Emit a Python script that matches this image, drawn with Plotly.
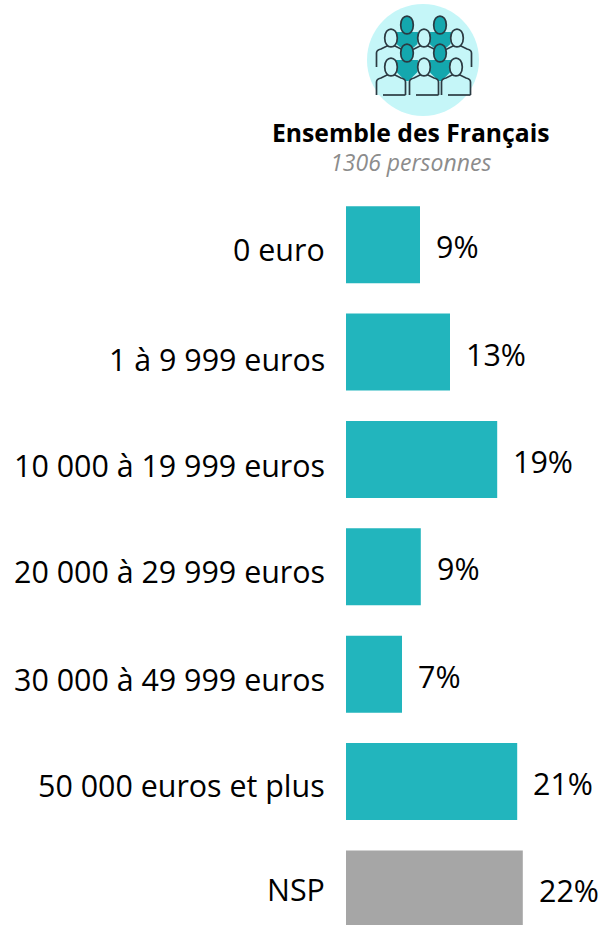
import plotly.graph_objects as go

categories = ["0 euro", "1 à 9 999 euros", "10 000 à 19 999 euros", "20 000 à 29 999 euros",
              "30 000 à 49 999 euros", "50 000 euros et plus", "NSP"]
values = [9.25, 13.0, 18.9, 9.35, 7.0, 21.4, 22.1]
labels = ["9%", "13%", "19%", "9%", "7%", "21%", "22%"]
colors = ["#22B5BD"] * 6 + ["#A6A6A6"]
title = "Ensemble des Français"
subtitle = "1306 personnes"

W, H = 604, 925
FONT = "Open Sans"
L, T = 346, 191
cat_shift = [-5, -7, -6, -5, -5, -4, -1]


def px(x):
    return (x - L) / (W - L)


def py(y):
    return 1 - (y - T) / (H - T)


def path(cmds):
    out = []
    for c in cmds:
        if isinstance(c, str):
            out.append(c)
        else:
            out.append(f"{px(c[0]):.5f},{py(c[1]):.5f}")
    return " ".join(out)


INK = "#2B3A42"
CYAN = "#C5F6F8"
TEAL = "#14A7AE"
shapes = []


def add(cmds, fill=None, width=1.7):
    shapes.append(dict(type="path", xref="paper", yref="paper", path=path(cmds),
                       fillcolor=fill or "rgba(0,0,0,0)",
                       line=dict(color=INK, width=width), layer="above"))


def head(cx, cy, fill):
    rx, ry = 6.3, 9.2
    add(["M", (cx - rx, cy), "C", (cx - rx, cy - ry * 1.3), (cx + rx, cy - ry * 1.3), (cx + rx, cy),
         "C", (cx + rx, cy + ry * 1.3), (cx - rx, cy + ry * 1.3), (cx - rx, cy), "Z"], fill)


def white_person(cx, cy, bottom, base=False):
    t = cy + 9
    add(["M", (cx - 14.5, bottom), "L", (cx - 14.5, t + 6), "Q", (cx - 14.5, t + 3), (cx - 10, t + 2),
         "L", (cx - 4, t - 1), "L", (cx + 4, t - 1), "L", (cx + 10, t + 2),
         "Q", (cx + 14.5, t + 3), (cx + 14.5, t + 6), "L", (cx + 14.5, bottom)], CYAN)
    if base:
        add(["M", (cx - 8, bottom), "L", (cx + 14.5, bottom)])
    head(cx, cy, CYAN)


def teal_person(cx, cy, bottom):
    t = cy + 7
    shapes.append(dict(type="path", xref="paper", yref="paper",
                       path=path(["M", (cx - 11, t), "L", (cx + 11, t), "L", (cx + 10.5, t + 12),
                                  "L", (cx + 1.5, bottom), "L", (cx - 1.5, bottom), "L", (cx - 10.5, t + 12), "Z"]),
                       fillcolor=TEAL, line=dict(color=TEAL, width=0), layer="above"))
    head(cx, cy, TEAL)


shapes.append(dict(type="circle", xref="paper", yref="paper", x0=px(367), x1=px(479),
                   y0=py(116), y1=py(4), fillcolor=CYAN, line=dict(width=0), layer="above"))
teal_person(407, 25, 52)
teal_person(440, 25, 52)
for cx in (391, 424, 457):
    white_person(cx, 38, 67)
teal_person(407, 53, 81)
teal_person(440, 53, 81)
for cx in (391, 424, 456):
    white_person(cx, 67, 95, base=True)

fig = go.Figure(go.Bar(x=values, y=categories, orientation="h", marker=dict(color=colors, line=dict(width=0)),
                       width=0.717, hoverinfo="skip"))

ann = []
for c, v, lab, s in zip(categories, values, labels, cat_shift):
    ann.append(dict(x=v, y=c, text=lab, xref="x", yref="y", xanchor="left", yanchor="middle", showarrow=False,
                    xshift=14, yshift=-2, font=dict(family=FONT, size=30.4, color="#000")))
    ann.append(dict(x=0, y=c, text=c, xref="x", yref="y", xanchor="right", yanchor="middle", showarrow=False,
                    xshift=-19, yshift=s, font=dict(family=FONT, size=30.4, color="#000")))
header = (f'<b><span style="font-size:24.7px;color:#000">{title}</span></b><br>'
          f'<i><span style="font-size:23px;color:#8C8C8C">{subtitle}</span></i>')
ann.append(dict(x=px(411), y=py(146.5), xref="paper", yref="paper", text=header, showarrow=False, align="center",
                xanchor="center", yanchor="middle", font=dict(family=FONT, size=22.3, color="#000")))

fig.update_layout(width=W, height=H, margin=dict(l=L, r=0, t=T, b=0, autoexpand=False),
                  paper_bgcolor="#FFFFFF", plot_bgcolor="#FFFFFF", showlegend=False,
                  font=dict(family=FONT),
                  xaxis=dict(range=[0, (W - L) / 8], visible=False, fixedrange=True),
                  yaxis=dict(range=[6.336, -0.5], type="category", categoryorder="array", categoryarray=categories,
                             visible=False, fixedrange=True),
                  shapes=shapes, annotations=ann)
fig.write_html("out.html", config=dict(displayModeBar=False),
               post_script="document.body.style.margin='0';document.documentElement.style.overflow='hidden';")
